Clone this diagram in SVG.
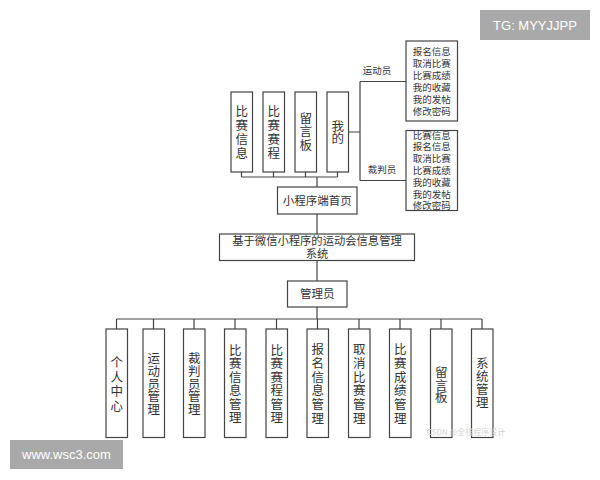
<svg xmlns="http://www.w3.org/2000/svg" width="600" height="480" viewBox="0 0 600 480">
<style>
.box{fill:#fff;stroke:#444;stroke-width:1.2}
.ln{fill:none;stroke:#444;stroke-width:1.2}
.t{font-family:"Liberation Sans","Noto Sans CJK SC",sans-serif;fill:#333;text-anchor:middle}
.v{font-family:"Noto Sans CJK SC","Liberation Sans",sans-serif;font-size:12.5px;writing-mode:vertical-rl;text-anchor:middle;fill:#333}
.s{font-size:9.5px}
.wm{fill:#a9a9a9}
.wt{font-family:"Liberation Sans","DejaVu Sans",sans-serif;fill:#fff;font-size:13px;text-anchor:middle}
</style>
<rect width="600" height="480" fill="#fff"/>
<g id="connectors">
<path class="ln" d="M241.5 172V177M273.5 172V177M305.5 172V177M337.5 172V177M241.5 177H337.5M317 177V187"/>
<path class="ln" d="M348 132H360M360 81.5V180.5M360 81.5H406M360 180.5H406"/>
<path class="ln" d="M317 214V234M317 260.5V281M317 307V319"/>
<path class="ln" d="M116.5 319H482M116.5 319V329M153.5 319V329M194 319V329M235 319V329M276.5 319V329M317.5 319V329M359 319V329M400 319V329M441 319V329M482 319V329"/>
</g>
<g id="n-bsxx"><rect class="box" x="231" y="92" width="21.5" height="80"/><text class="v" x="241.75" y="132.7" style="letter-spacing:1.4px">比赛信息</text></g>
<g id="n-bssc"><rect class="box" x="263" y="92" width="21.5" height="80"/><text class="v" x="273.75" y="132.7" style="letter-spacing:1.4px">比赛赛程</text></g>
<g id="n-lyb"><rect class="box" x="295" y="92" width="21.5" height="80"/><text class="v" x="305.75" y="132" style="letter-spacing:1px">留言板</text></g>
<g id="n-wd"><rect class="box" x="327" y="92" width="21.5" height="80"/><text class="v" x="337.75" y="132">我的</text></g>
<g id="lbl-ydy"><text class="t s" x="377" y="74">运动员</text></g>
<g id="lbl-cpy"><text class="t s" x="382" y="172.5">裁判员</text></g>
<g id="n-ydy-menu"><rect class="box" x="406" y="41" width="51.5" height="80"/><text class="t s" x="431.75"><tspan y="55">报名信息</tspan><tspan x="431.75" y="67">取消比赛</tspan><tspan x="431.75" y="79">比赛成绩</tspan><tspan x="431.75" y="91">我的收藏</tspan><tspan x="431.75" y="103">我的发帖</tspan><tspan x="431.75" y="115">修改密码</tspan></text></g>
<g id="n-cpy-menu"><rect class="box" x="406" y="130.5" width="51.5" height="80"/><text class="t s" x="431.75"><tspan y="138.5">比赛信息</tspan><tspan x="431.75" y="150.3">报名信息</tspan><tspan x="431.75" y="162.1">取消比赛</tspan><tspan x="431.75" y="173.9">比赛成绩</tspan><tspan x="431.75" y="185.7">我的收藏</tspan><tspan x="431.75" y="197.5">我的发帖</tspan><tspan x="431.75" y="209.3">修改密码</tspan></text></g>
<g id="n-home"><rect class="box" x="277.5" y="187" width="79.5" height="27"/><text class="t" style="font-size:11.5px" x="317.25" y="205">小程序端首页</text></g>
<g id="n-system"><rect class="box" x="219.5" y="234" width="195" height="26.5"/><text class="t" style="font-size:11.3px" x="317"><tspan y="245">基于微信小程序的运动会信息管理</tspan><tspan x="317" y="258">系统</tspan></text></g>
<g id="n-admin"><rect class="box" x="287.5" y="281" width="59.5" height="26"/><text class="t" style="font-size:11.5px" x="317.25" y="298">管理员</text></g>
<g id="b1"><rect class="box" x="106" y="329" width="21.5" height="108.5"/><text class="v" x="116.75" y="385" style="letter-spacing:2px">个人中心</text></g>
<g id="b2"><rect class="box" x="143" y="329" width="21.5" height="108.5"/><text class="v" x="153.75" y="384" style="letter-spacing:0.3px">运动员管理</text></g>
<g id="b3"><rect class="box" x="183.5" y="329" width="21.5" height="108.5"/><text class="v" x="194.25" y="384" style="letter-spacing:0.3px">裁判员管理</text></g>
<g id="b4"><rect class="box" x="224.5" y="329" width="21.5" height="108.5"/><text class="v" x="235.25" y="384.3" style="letter-spacing:1px">比赛信息管理</text></g>
<g id="b5"><rect class="box" x="266" y="329" width="21.5" height="108.5"/><text class="v" x="276.75" y="384.3" style="letter-spacing:1px">比赛赛程管理</text></g>
<g id="b6"><rect class="box" x="307" y="329" width="21.5" height="108.5"/><text class="v" x="317.75" y="384.3" style="letter-spacing:1.2px">报名信息管理</text></g>
<g id="b7"><rect class="box" x="348.5" y="329" width="21.5" height="108.5"/><text class="v" x="359.25" y="384.3" style="letter-spacing:1.2px">取消比赛管理</text></g>
<g id="b8"><rect class="box" x="389.5" y="329" width="21.5" height="108.5"/><text class="v" x="400.25" y="384.3" style="letter-spacing:1.2px">比赛成绩管理</text></g>
<g id="b9"><rect class="box" x="430.5" y="329" width="21.5" height="108.5"/><text class="v" x="441.25" y="385">留言板</text></g>
<g id="b10"><rect class="box" x="471.5" y="329" width="21.5" height="108.5"/><text class="v" x="482.25" y="382.7" style="letter-spacing:0.4px">系统管理</text></g>
<text x="466" y="435" style="font-family:'Noto Sans CJK SC','Liberation Sans',sans-serif;font-size:8px;fill:#d4d4d4;text-anchor:middle">CSDN @全栈程序设计</text>
<g id="wm-top"><rect class="wm" x="480" y="10" width="110" height="30"/><text class="wt" x="535" y="29.5">TG: MYYJJPP</text></g>
<g id="wm-bottom"><rect class="wm" x="10" y="440" width="113" height="29"/><text class="wt" x="66.5" y="459">www.wsc3.com</text></g>
</svg>
